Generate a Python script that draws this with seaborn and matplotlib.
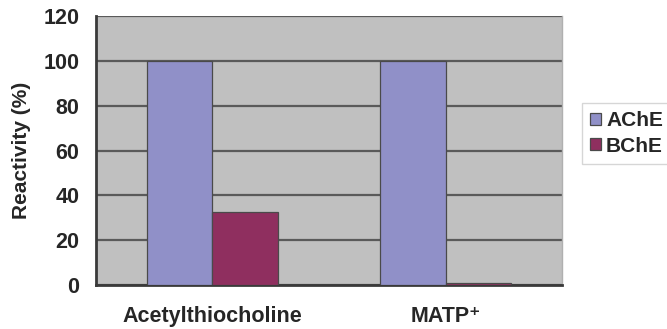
import matplotlib
matplotlib.use("Agg")
import matplotlib.pyplot as plt
import seaborn as sns
import pandas as pd
from matplotlib.ticker import FixedLocator

substrates = ["Acetylthiocholine", "MATP\u207a"]
enzymes = ["AChE", "BChE"]
reactivity_ache = [100, 100]
reactivity_bche = [32.5, 1.0]
y_ticks = [0, 20, 40, 60, 80, 100, 120]

df = pd.DataFrame({
    "substrate": substrates * 2,
    "enzyme": [enzymes[0]] * 2 + [enzymes[1]] * 2,
    "reactivity": reactivity_ache + reactivity_bche,
})

sns.set_theme(style="white")
plt.rcParams["font.family"] = ["Liberation Sans", "DejaVu Sans"]
plt.rcParams["font.weight"] = "bold"

fig = plt.figure(figsize=(6.67, 3.29), dpi=100)
ax = fig.add_axes([0.1439, 0.1337, 0.6987, 0.8177])

palette = {"AChE": "#9090c8", "BChE": "#8f2f5f"}
sns.barplot(data=df, x="substrate", y="reactivity", hue="enzyme",
            palette=palette, width=0.565, edgecolor="#4a4a4a", linewidth=0.9,
            saturation=1, ax=ax, zorder=3)

ax.set_facecolor("#c0c0c0")
ax.set_ylim(0, 120)
ax.set_xlim(-0.5, 1.5)
ax.yaxis.set_major_locator(FixedLocator(y_ticks))
ax.set_yticklabels([str(t) for t in y_ticks], fontsize=15.5, fontweight="bold")
ax.grid(axis="y", color="#5a5a5a", linewidth=1.6, zorder=1)
ax.set_axisbelow(True)

ax.set_xticks([0, 1])
ax.set_xticklabels(substrates, fontsize=15.5, fontweight="bold")
ax.xaxis.set_minor_locator(FixedLocator([0.5]))
ax.tick_params(axis="x", which="major", length=0, pad=15)
ax.tick_params(axis="x", which="minor", length=4, width=1.2, color="#333333",
               direction="in")
ax.tick_params(axis="y", length=5, width=1.2, color="#444444", direction="in",
               pad=12)

ax.set_xlabel("")
ax.set_ylabel("Reactivity (%)", fontsize=15, fontweight="bold", labelpad=9)

for side in ["left", "bottom"]:
    ax.spines[side].set_visible(True)
    ax.spines[side].set_color("#3a3a3a")
    ax.spines[side].set_linewidth(2.0)
ax.spines["top"].set_visible(False)
ax.spines["right"].set_visible(True)
ax.spines["right"].set_color("#b0b0b0")
ax.spines["right"].set_linewidth(1.0)

handles, labels = ax.get_legend_handles_labels()
leg = ax.legend(handles, labels, loc="center left",
                bbox_to_anchor=(1.043, 0.563), frameon=True, fancybox=False,
                prop={"weight": "bold", "size": 15}, handlelength=0.5,
                handleheight=0.5, handletextpad=0.25, borderpad=0.4,
                labelspacing=0.3, borderaxespad=0)
leg.get_frame().set_edgecolor("#cccccc")
leg.get_frame().set_linewidth(1.0)

fig.savefig("out.png", dpi=100)
